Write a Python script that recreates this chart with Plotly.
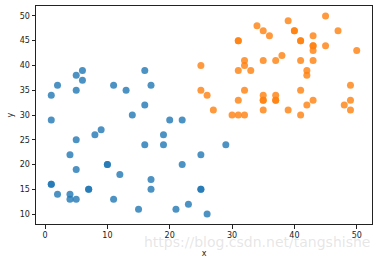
import plotly.graph_objects as go

blue_x = [1, 2, 5, 6, 6, 5, 1, 9, 11, 13, 14, 16, 17, 16, 20, 22, 8, 5, 4, 5, 10, 10, 12, 1, 1, 2, 4, 4, 5, 7, 7, 11, 15, 16, 19, 19, 17, 17, 21, 23, 22, 25, 25, 25, 29, 26]
blue_y = [34, 36, 38, 39, 37, 35, 29, 27, 36, 35, 30, 39, 36, 32, 29, 29, 26, 25, 22, 19, 20, 20, 18, 16, 16, 14, 14, 13, 13, 15, 15, 13, 11, 24, 26, 24, 17, 15, 11, 12, 20, 22, 15, 15, 24, 10]

orange_x = [45, 39, 34, 35, 36, 40, 40, 47, 31, 31, 41, 41, 43, 43, 43, 43, 45, 50, 25, 32, 32, 31, 33, 35, 37, 38, 41, 43, 42, 42, 25, 26, 32, 31, 27, 30, 31, 32, 35, 35, 35, 37, 37, 37, 35, 39, 41, 41, 43, 42, 49, 49, 48, 49]
orange_y = [50, 49, 48, 47, 46, 47, 47, 47, 45, 45, 45, 45, 46, 44, 44, 43, 44, 43, 40, 41, 40, 39, 39, 41, 41, 42, 41, 41, 39, 38, 35, 34, 35, 33, 31, 30, 30, 30, 34, 33, 33, 34, 33, 33, 31, 31, 35, 30, 33, 32, 36, 33, 32, 31]

x_ticks = [0, 10, 20, 30, 40, 50]
y_ticks = [10, 15, 20, 25, 30, 35, 40, 45, 50]

fig = go.Figure()
fig.add_trace(go.Scatter(x=blue_x, y=blue_y, mode="markers",
                         marker=dict(color="#1f77b4", size=7, opacity=0.8, line=dict(width=0))))
fig.add_trace(go.Scatter(x=orange_x, y=orange_y, mode="markers",
                         marker=dict(color="#ff7f0e", size=7, opacity=0.8, line=dict(width=0))))

axis_common = dict(showgrid=False, zeroline=False, showline=True, linecolor="#222222", linewidth=1,
                   mirror=True, ticks="outside", ticklen=3.5, tickwidth=0.8, tickcolor="#222222",
                   automargin=False,
                   tickfont=dict(family="DejaVu Sans", size=8, color="#222222"))

fig.update_xaxes(range=[-1.45, 52.45], tickvals=x_ticks,
                 title=dict(text="x", font=dict(family="DejaVu Sans", size=8, color="#222222"), standoff=11),
                 **axis_common)
fig.update_yaxes(range=[8, 52], tickvals=y_ticks,
                 title=dict(text="y", font=dict(family="DejaVu Sans", size=8, color="#222222"), standoff=4),
                 **axis_common)

fig.add_annotation(text="https://blog.csdn.net/tangshishe", xref="paper", yref="paper",
                   x=1.0, y=-0.035, xanchor="right", yanchor="top", showarrow=False,
                   font=dict(family="DejaVu Sans", size=14, color="rgba(200,200,200,0.45)"))

fig.update_layout(width=378, height=258, showlegend=False,
                  margin=dict(l=36, r=6, t=6, b=34),
                  plot_bgcolor="white", paper_bgcolor="white")

fig.write_html("out.html")
